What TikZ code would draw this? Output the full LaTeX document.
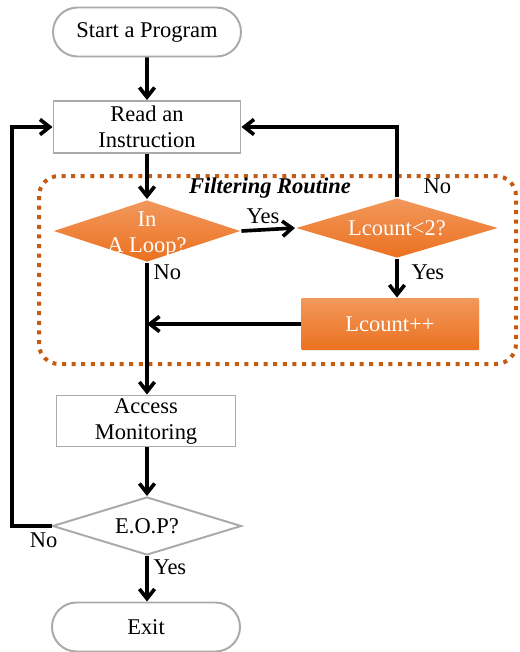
\documentclass[tikz,border=0pt]{standalone}
\usepackage{fontspec}
\setmainfont{Liberation Serif}
\usetikzlibrary{shapes.geometric,shapes.misc,arrows.meta,shadows}

\definecolor{edgegray}{RGB}{170,170,170}
\definecolor{orangetop}{RGB}{242,152,92}
\definecolor{orangebot}{RGB}{235,113,32}
\definecolor{dotbrown}{RGB}{197,90,17}

\begin{document}
\begin{tikzpicture}[
	font=\fontsize{16}{18.5}\selectfont,
	terminal/.style={rounded rectangle, draw=edgegray, line width=1.4pt, minimum width=4.7cm, minimum height=1.225cm, inner sep=0pt},
	process/.style={rectangle, draw=edgegray, line width=1.4pt, align=center, inner sep=0pt},
	decision/.style={diamond, draw=edgegray, line width=1.4pt, inner sep=0pt},
	hot/.style={draw=none, top color=orangetop, bottom color=orangebot},
	arr/.style={line width=2.6pt, -{Straight Barb[length=2.4mm,width=3.8mm]}},
	]

	\useasboundingbox (0,0) rectangle (12.975,-16.3);

	% filtering routine frame
	\coordinate (fr1) at (0.975,-4.4);
	\coordinate (fr2) at (12.9,-9.1);
	\draw[dotbrown, line width=1mm, dash pattern=on 1mm off 1.4mm, rounded corners=5mm] (fr1) rectangle (fr2);
	\node[font=\fontsize{16}{18.5}\selectfont\bfseries\itshape] (ftitle) at (6.75,-4.7) {Filtering Routine};

	\node[terminal] (start) at (3.675,-0.8) {Start a Program};
	\node[process, minimum width=4.675cm, minimum height=1.3cm] (read) at (3.675,-3.175) {Read an\\Instruction};
	\node[decision, hot, minimum width=4.675cm, minimum height=1.55cm,
		label={[text=white, align=center, yshift=-1mm]center:{In\\A Loop?}}] (loop) at (3.675,-5.775) {};
	\node[decision, hot, minimum width=5.05cm, minimum height=1.5cm,
		label={[text=white]center:Lcount<2?}] (lcnt) at (9.925,-5.7) {};
	\node[process, hot, text=white, minimum width=4.425cm, minimum height=1.275cm,
		drop shadow={opacity=0.15, shadow xshift=0.3mm, shadow yshift=-0.4mm}] (inc) at (9.75,-8.1) {Lcount++};
	\node[process, minimum width=4.475cm, minimum height=1.275cm] (access) at (3.65,-10.525) {Access\\Monitoring};
	\node[decision, minimum width=4.725cm, minimum height=1.45cm,
		label={center:E.O.P?}] (eop) at (3.675,-13.15) {};
	\node[terminal] (exit) at (3.65,-15.675) {Exit};

	\coordinate (lft) at (0.3,-13.15);

	\draw[arr] (start) -- (read);
	\draw[arr] (read) -- (loop);
	\draw[arr] (loop.east) -- node[above, pos=0.4] {Yes} (lcnt.west);
	\draw[arr] (lcnt.north) |- node[pos=0.08, right=5mm] {No} (read.east);
	\draw[arr] (lcnt.south) -- node[pos=0.35, right=2mm] {Yes} (lcnt.south |- inc.north);
	\draw[arr] (inc.west) -- (inc.west -| loop.south);
	\draw[arr] (loop.south) -- node[pos=0.07, right] {No} (loop.south |- access.north);
	\draw[arr] (access.south -| eop.north) -- (eop.north);
	\draw[arr] (eop.south) -- node[pos=0.25, right] {Yes} (exit.north -| eop.south);
	\draw[arr] (eop.west) -- node[pos=0.2, below] {No} (lft) |- (read.west);

\end{tikzpicture}
\end{document}
